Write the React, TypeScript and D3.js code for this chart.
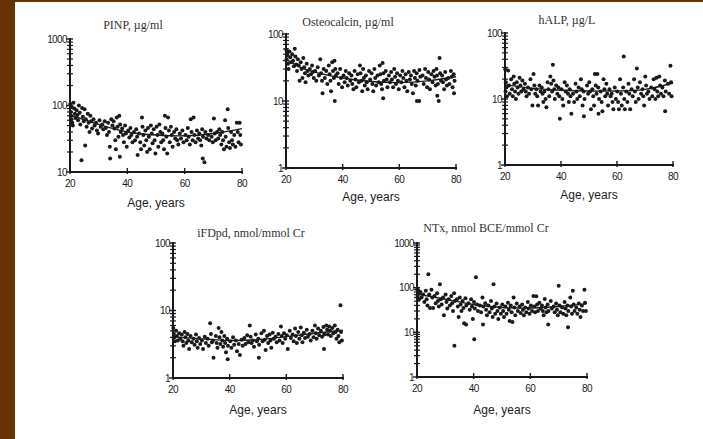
import React from "react";
import * as d3 from "d3";

type Pt = [number, number];

// Scatter points: [age in years, marker value]
const pinpPoints: Pt[] = [[20.1,105],[20.3,80],[20.5,62],[20.6,95],[20.8,55],[20.4,70],[21.0,50],[21.2,110],[21.5,90],[21.7,75],[21.9,65],[22.3,85],[22.6,72],[22.8,60],[23.1,100],[23.4,78],[23.6,52],[24.0,15],[24.2,92],[24.5,68],[24.8,58],[25.1,88],[25.3,25],[25.5,62],[25.8,48],[26.2,75],[26.5,55],[26.8,40],[27.1,70],[27.4,58],[27.7,45],[28.2,62],[28.6,50],[29.1,55],[29.4,42],[29.8,38],[30.3,60],[30.7,48],[31.2,52],[31.6,44],[32.1,58],[32.5,46],[32.9,36],[33.3,55],[33.6,40],[34.0,16],[33.9,24],[34.4,62],[34.8,50],[35.2,58],[35.5,45],[35.8,30],[36.0,22],[36.3,66],[36.6,48],[36.9,34],[37.2,70],[37.5,52],[37.7,40],[37.4,17],[38.2,45],[38.5,36],[38.8,28],[39.2,50],[39.5,38],[39.8,24],[40.3,42],[40.7,33],[41.1,46],[41.4,36],[41.8,28],[42.3,40],[42.7,30],[43.1,44],[43.4,34],[43.6,18],[44.1,38],[44.5,28],[44.8,22],[45.1,66],[45.3,48],[45.6,36],[45.9,25],[46.3,42],[46.6,30],[46.9,20],[47.2,46],[47.5,34],[47.8,22],[48.2,50],[48.5,38],[48.8,27],[49.2,44],[49.5,30],[49.8,19],[50.2,48],[50.5,36],[50.8,24],[51.2,52],[51.5,40],[51.8,28],[52.2,38],[52.5,30],[52.8,22],[53.1,70],[53.3,46],[53.6,34],[53.9,19],[54.2,66],[54.5,42],[54.8,28],[55.2,48],[55.5,36],[55.8,24],[56.3,40],[56.7,32],[57.1,44],[57.4,30],[57.8,26],[58.3,38],[58.7,32],[59.2,42],[59.6,28],[60.3,36],[60.7,30],[61.1,46],[61.4,34],[61.8,26],[62.1,62],[62.4,40],[62.8,30],[63.1,66],[63.4,36],[63.8,28],[64.3,42],[64.7,32],[65.1,38],[65.4,30],[65.8,25],[66.1,44],[66.4,34],[66.3,16],[66.9,14],[67.2,40],[67.6,32],[68.2,36],[68.6,30],[69.1,42],[69.4,34],[69.8,28],[70.2,64],[70.5,38],[70.8,30],[71.3,40],[71.7,32],[72.1,44],[72.4,36],[72.8,26],[73.1,40],[73.4,30],[73.7,22],[74.1,60],[74.3,34],[74.6,24],[75.0,88],[75.2,46],[75.5,28],[75.8,23],[76.2,40],[76.5,30],[76.8,26],[77.3,36],[77.7,24],[78.2,55],[78.5,40],[78.8,28],[79.2,55],[79.4,36],[79.6,26]];

const osteocalcinPoints: Pt[] = [[20.1,58],[20.3,52],[20.5,48],[20.2,42],[20.7,36],[20.9,30],[21.2,55],[21.5,45],[21.8,38],[22.2,50],[22.5,40],[22.8,33],[23.1,60],[23.3,46],[23.6,35],[23.9,28],[24.2,42],[24.5,34],[24.8,20],[25.2,38],[25.5,30],[25.8,22],[26.1,44],[26.4,32],[26.7,26],[26.9,19],[27.3,36],[27.6,28],[27.9,24],[28.4,30],[28.8,25],[29.2,34],[29.5,27],[29.8,22],[30.3,28],[30.7,20],[31.2,32],[31.6,24],[32.1,42],[32.4,26],[32.7,20],[32.9,13],[33.3,30],[33.7,22],[34.2,28],[34.6,18],[35.1,34],[35.4,25],[35.7,20],[35.9,14],[36.3,38],[36.6,28],[36.9,22],[37.1,40],[37.4,30],[37.6,24],[37.2,10],[38.2,26],[38.6,18],[39.1,30],[39.4,22],[39.8,16],[40.3,24],[40.7,19],[41.1,28],[41.4,22],[41.8,17],[42.3,26],[42.7,20],[43.1,24],[43.4,18],[43.8,15],[44.2,28],[44.5,21],[44.8,16],[45.3,25],[45.7,19],[46.1,34],[46.3,26],[46.6,20],[46.9,14],[47.2,30],[47.5,22],[47.8,17],[48.2,24],[48.5,19],[48.8,15],[49.3,28],[49.7,21],[50.2,26],[50.5,18],[50.8,14],[51.2,30],[51.5,22],[51.8,17],[52.3,24],[52.7,19],[53.1,34],[53.3,25],[53.6,18],[53.9,15],[54.1,37],[54.4,26],[54.6,20],[54.3,11],[55.2,28],[55.5,21],[55.8,16],[56.3,24],[56.7,19],[57.1,27],[57.4,21],[57.8,16],[58.2,30],[58.5,23],[58.8,18],[59.2,26],[59.5,20],[59.8,15],[60.3,24],[60.7,19],[61.1,28],[61.4,22],[61.8,16],[62.2,25],[62.5,20],[62.8,14],[63.3,27],[63.7,21],[64.1,24],[64.4,18],[64.8,13],[65.2,28],[65.5,22],[65.8,17],[66.1,26],[66.4,20],[66.2,10],[67.1,29],[67.4,23],[67.0,10],[68.2,24],[68.6,18],[69.1,30],[69.4,22],[69.8,16],[70.2,27],[70.5,21],[70.8,15],[71.3,25],[71.7,19],[72.1,28],[72.4,23],[72.8,17],[73.1,30],[73.3,24],[73.6,18],[73.4,12],[73.9,10],[74.2,44],[74.4,26],[74.7,20],[75.1,24],[75.4,19],[75.8,15],[76.2,27],[76.5,21],[76.8,17],[77.3,22],[77.7,18],[78.2,28],[78.5,23],[78.8,16],[79.2,25],[79.5,20],[79.3,13]];

const halpPoints: Pt[] = [[20.1,28],[20.3,18],[20.5,15],[20.2,13],[20.7,11],[21.1,27],[21.4,16],[21.7,12],[22.2,20],[22.5,14],[22.8,11],[23.1,22],[23.3,17],[23.6,13],[23.9,10],[24.2,18],[24.5,15],[24.8,12],[25.2,21],[25.5,16],[25.8,13],[26.2,19],[26.6,14],[27.1,17],[27.4,13],[27.7,11],[28.2,15],[28.6,12],[29.1,20],[29.4,14],[29.8,8],[30.2,24],[30.5,16],[30.8,12],[31.2,14],[31.5,11],[31.8,8],[32.3,16],[32.7,13],[33.1,15],[33.4,12],[33.7,9],[34.1,13],[34.5,10],[34.8,7.5],[35.2,18],[35.5,14],[35.8,11],[36.2,22],[36.5,17],[36.8,13],[37.1,33],[37.3,19],[37.6,14],[37.8,10],[38.3,16],[38.7,12],[39.1,15],[39.4,11],[39.6,5],[40.2,14],[40.5,10],[40.8,8],[41.3,18],[41.7,13],[42.1,16],[42.5,12],[42.8,9],[43.1,14],[43.4,11],[43.7,6],[44.3,12],[44.7,9],[45.2,17],[45.5,13],[45.8,10],[46.3,15],[46.7,11],[47.1,20],[47.4,14],[47.7,8],[48.1,13],[48.4,10],[48.2,5.5],[49.3,16],[49.7,12],[50.1,18],[50.4,13],[50.7,7],[51.2,14],[51.5,11],[51.8,8],[52.1,24],[52.4,16],[52.7,12],[53.0,24],[53.3,15],[53.6,10],[53.4,6],[54.2,13],[54.5,9],[54.8,6.5],[55.2,20],[55.5,14],[55.8,11],[56.2,17],[56.5,12],[56.8,8],[57.3,14],[57.7,11],[58.1,12],[58.4,9],[58.7,7],[59.2,15],[59.6,10],[60.1,13],[60.4,9],[60.7,7],[61.1,20],[61.4,12],[61.7,8],[62.4,44],[62.2,15],[62.6,10],[62.8,7],[63.3,13],[63.7,9],[64.1,17],[64.4,12],[64.7,7],[65.2,14],[65.6,11],[66.1,20],[66.4,13],[66.7,9],[67.1,29],[67.4,15],[67.7,10],[68.2,18],[68.6,12],[69.1,14],[69.4,11],[69.7,8],[70.1,22],[70.4,16],[70.7,12],[71.2,13],[71.6,10],[72.2,15],[72.6,11],[73.1,20],[73.4,14],[73.7,10],[74.1,21],[74.4,13],[74.7,11],[75.1,22],[75.4,16],[75.7,12],[76.2,15],[76.6,11],[77.1,19],[77.4,13],[77.2,6.5],[78.2,17],[78.6,12],[79.1,32],[79.3,18],[79.5,11]];

const ifdpdPoints: Pt[] = [[20.1,5.5],[20.3,4.5],[20.5,4],[20.7,3.5],[21.1,5],[21.4,4.2],[21.7,3.6],[22.2,4.6],[22.6,3.8],[23.1,4.4],[23.4,3.5],[23.7,3],[24.1,4.8],[24.4,4],[24.7,3.3],[25.1,4.5],[25.4,3.6],[25.7,2.7],[26.2,4.2],[26.6,3.4],[27.2,3.8],[27.6,3.1],[28.1,4.4],[28.4,3.5],[28.7,2.8],[29.2,3.9],[29.6,3.2],[30.2,3.6],[30.6,2.7],[31.2,4.1],[31.6,3.3],[32.2,3.8],[32.6,3],[33.1,6.5],[33.4,4.5],[33.7,3.4],[34.1,3.6],[34.3,2],[35.1,4.2],[35.4,3.3],[35.7,2.8],[36.1,5.5],[36.4,4],[36.7,3.2],[37.1,4.8],[37.4,3.6],[37.7,2.9],[38.1,4.2],[38.4,3.3],[38.7,2.4],[39.1,3.8],[39.4,3],[39.3,1.9],[40.2,3.5],[40.6,2.8],[41.2,4],[41.6,3.1],[42.2,3.6],[42.6,2.5],[43.2,3.2],[43.6,2.2],[44.2,3.7],[44.6,3],[45.2,3.9],[45.6,3.2],[46.2,4.3],[46.6,3.4],[47.1,6],[47.4,4.1],[47.7,3.3],[48.2,3.6],[48.6,2.9],[49.2,4.4],[49.6,3.5],[50.1,3.8],[50.4,3.1],[50.3,2],[51.2,4.6],[51.6,3.5],[52.1,5],[52.4,3.7],[52.7,2.6],[53.2,4.2],[53.6,3.3],[54.1,4.4],[54.4,3.6],[54.7,2.8],[55.2,4.7],[55.6,3.8],[56.2,4.1],[56.6,3.4],[57.2,4.5],[57.6,3.6],[58.1,5.8],[58.4,4.2],[58.7,3.3],[59.2,4.6],[59.6,3.8],[60.2,4.3],[60.5,2.7],[61.2,5],[61.6,3.9],[62.2,4.4],[62.6,3.5],[63.1,5.4],[63.4,4.2],[63.7,3.3],[64.2,4.8],[64.6,3.8],[65.1,5.6],[65.4,4.3],[65.7,3.4],[66.2,4.7],[66.6,3.9],[67.2,5.2],[67.6,4.1],[68.2,4.5],[68.6,3.6],[69.2,5],[69.6,4],[70.1,6],[70.4,4.6],[70.7,3.8],[71.2,5.4],[71.6,4.3],[72.2,5],[72.6,4.1],[73.1,5.7],[73.4,4.4],[73.3,2.7],[74.1,6],[74.4,5.2],[74.7,4.4],[75.1,5.8],[75.4,5],[75.7,4.2],[76.2,5.5],[76.6,4.6],[77.1,6],[77.4,4.8],[77.7,3.8],[78.1,5.2],[78.4,4.2],[78.7,3.4],[79.1,12],[79.3,4.8],[79.6,3.6]];

const ntxPoints: Pt[] = [[20.1,95],[20.3,85],[20.5,75],[20.2,65],[20.7,55],[21.2,80],[21.6,60],[22.2,70],[22.6,48],[23.1,85],[23.4,55],[23.7,40],[24.0,200],[24.3,70],[24.6,35],[25.1,90],[25.4,60],[25.7,35],[26.2,65],[26.6,45],[27.1,75],[27.4,50],[27.7,38],[28.1,120],[28.4,55],[28.7,42],[29.2,60],[29.5,24],[30.1,70],[30.4,48],[30.7,34],[31.2,55],[31.6,40],[32.1,65],[32.4,45],[32.7,30],[33.1,75],[33.4,50],[33.2,5],[34.1,55],[34.4,38],[34.7,22],[35.1,60],[35.4,42],[35.7,30],[36.1,50],[36.4,35],[36.6,16],[37.1,58],[37.4,40],[37.3,15],[38.2,45],[38.6,32],[39.1,55],[39.4,38],[39.7,20],[40.1,48],[40.4,34],[40.2,7],[40.8,170],[41.2,42],[41.5,30],[42.2,40],[42.6,28],[43.1,60],[43.4,38],[43.3,15],[44.1,45],[44.4,32],[44.7,24],[45.2,40],[45.6,28],[46.1,50],[46.4,34],[46.7,22],[47.0,120],[47.3,38],[47.6,26],[48.1,44],[48.4,30],[48.7,20],[49.2,36],[49.6,26],[50.1,42],[50.4,30],[50.7,22],[51.2,38],[51.6,26],[52.1,46],[52.4,32],[52.7,18],[53.1,40],[53.4,28],[53.7,17],[54.1,60],[54.4,36],[54.7,24],[55.2,44],[55.6,30],[56.2,38],[56.6,27],[57.1,42],[57.4,32],[57.7,24],[58.2,36],[58.6,28],[59.1,48],[59.4,34],[59.7,26],[60.2,40],[60.6,30],[61.1,65],[61.4,38],[61.7,28],[62.1,64],[62.4,42],[62.7,30],[63.2,46],[63.6,34],[64.1,40],[64.4,30],[64.7,24],[65.1,56],[65.4,36],[65.7,28],[66.1,42],[66.4,30],[66.3,15],[67.2,50],[67.6,34],[68.2,38],[68.6,28],[69.1,44],[69.4,32],[69.7,24],[70.0,110],[70.3,40],[70.6,28],[71.2,36],[71.6,26],[72.1,48],[72.4,34],[72.7,24],[73.1,40],[73.4,30],[73.3,13],[74.1,60],[74.4,38],[74.7,26],[75.0,85],[75.3,42],[75.6,30],[76.2,36],[76.6,26],[77.1,44],[77.4,32],[77.7,22],[78.2,40],[78.6,30],[79.1,90],[79.3,46],[79.6,30]];

// Fitted trend curves
const pinpCurve: Pt[] = [[20,72],[30,52],[40,40],[50,36],[60,35],[70,38],[80,45]];
const osteocalcinCurve: Pt[] = [[20,42],[25,32],[30,27],[40,22],[50,19.5],[60,18.8],[70,20],[80,23]];
const halpCurve: Pt[] = [[20,16.5],[30,14.5],[40,13.6],[50,13.2],[60,13.2],[70,14],[80,17.5]];
const ifdpdCurve: Pt[] = [[20,4.1],[30,3.8],[40,3.6],[50,3.7],[60,4.1],[70,4.6],[80,5.1]];
const ntxCurve: Pt[] = [[20,72],[30,55],[40,42],[50,36],[60,35],[70,38],[80,44]];

const ageTicks = [20, 40, 60, 80];
const panelTitles = [
  "PINP, µg/ml",
  "Osteocalcin, µg/ml",
  "hALP, µg/L",
  "iFDpd, nmol/mmol Cr",
  "NTx, nmol BCE/mmol Cr",
];
const xAxisLabel = "Age, years";

interface PanelLayout {
  left: number;
  right: number;
  top: number;
  bottom: number;
  yDomain: [number, number];
  titleX: number;
  titleY: number;
  labelY: number;
}

const layouts: PanelLayout[] = [
  { left: 70, right: 242, top: 39, bottom: 172, yDomain: [10, 1000], titleX: 133, titleY: 29, labelY: 207 },
  { left: 286, right: 456, top: 34, bottom: 168, yDomain: [1, 100], titleX: 348, titleY: 26, labelY: 201 },
  { left: 505, right: 673, top: 33, bottom: 165, yDomain: [1, 100], titleX: 567, titleY: 24, labelY: 199 },
  { left: 173, right: 343, top: 243, bottom: 378, yDomain: [1, 100], titleX: 251, titleY: 237, labelY: 414 },
  { left: 417, right: 587, top: 243, bottom: 377, yDomain: [1, 1000], titleX: 486, titleY: 232, labelY: 414 },
];

const seriesPoints = [pinpPoints, osteocalcinPoints, halpPoints, ifdpdPoints, ntxPoints];
const seriesCurves = [pinpCurve, osteocalcinCurve, halpCurve, ifdpdCurve, ntxCurve];

const INK = "#1a1a1a";
const SANS = "'Liberation Sans', Arial, sans-serif";
const SERIF = "'Liberation Serif', 'Times New Roman', serif";

function Panel({ layout, points, curve, title }: { layout: PanelLayout; points: Pt[]; curve: Pt[]; title: string }) {
  const x = d3.scaleLinear().domain([20, 80]).range([layout.left, layout.right]);
  const y = d3.scaleLog().domain(layout.yDomain).range([layout.bottom, layout.top]);

  const [lo, hi] = layout.yDomain;
  const decades: number[] = [];
  for (let d = lo; d <= hi + 1e-9; d *= 10) decades.push(d);
  const minor: number[] = [];
  decades.slice(0, -1).forEach((d) => {
    for (let k = 2; k <= 9; k++) minor.push(d * k);
  });

  const line = d3
    .line<Pt>()
    .x((p) => x(p[0]))
    .y((p) => y(p[1]))
    .curve(d3.curveNatural);

  const ax = layout.left;
  const ay = layout.bottom;

  return (
    <g>
      <text x={layout.titleX} y={layout.titleY} textAnchor="middle" fontFamily={SERIF} fontSize={12} fill="#333">
        {title}
      </text>

      {/* points */}
      {points.map((p, i) => (
        <circle key={i} cx={x(p[0])} cy={y(p[1])} r={2} fill={INK} />
      ))}

      {/* trend */}
      <path d={line(curve) || ""} fill="none" stroke={INK} strokeWidth={1.4} />

      {/* y axis */}
      <line x1={ax} x2={ax} y1={y(hi) - 1} y2={ay} stroke={INK} strokeWidth={2} />
      {minor.map((v) => (
        <line key={"m" + v} x1={ax - 3} x2={ax + 3} y1={y(v)} y2={y(v)} stroke={INK} strokeWidth={1.2} />
      ))}
      {decades.map((v) => (
        <g key={"d" + v}>
          <line x1={ax - 4} x2={ax + 3} y1={y(v)} y2={y(v)} stroke={INK} strokeWidth={1.4} />
          <text
            x={ax - 3}
            y={y(v) + 3.5}
            textAnchor="end"
            fontFamily={SANS}
            fontSize={10}
            letterSpacing={-0.6}
            fill={INK}
          >
            {v}
          </text>
        </g>
      ))}

      {/* x axis */}
      <line x1={ax} x2={layout.right + 1} y1={ay} y2={ay} stroke={INK} strokeWidth={2} />
      {ageTicks.map((t) => (
        <g key={"x" + t}>
          <line x1={x(t)} x2={x(t)} y1={ay - 4} y2={ay + 2} stroke={INK} strokeWidth={1.4} />
          <text x={x(t)} y={ay + 15} textAnchor="middle" fontFamily={SANS} fontSize={10} letterSpacing={-0.6} fill={INK}>
            {t}
          </text>
        </g>
      ))}

      <text
        x={(layout.left + layout.right) / 2}
        y={layout.labelY}
        textAnchor="middle"
        fontFamily={SANS}
        fontSize={12}
        fill="#222"
      >
        {xAxisLabel}
      </text>
    </g>
  );
}

export default function App() {
  return (
    <svg
      width={703}
      height={439}
      viewBox="0 0 703 439"
      style={{ position: "absolute", left: 0, top: 0, display: "block" }}
    >
      <rect x={0} y={0} width={703} height={439} fill="#ffffff" />
      <rect x={0} y={0} width={15} height={439} fill="#663300" />
      <rect x={0} y={0} width={703} height={2} fill="#663300" />
      {layouts.map((l, i) => (
        <Panel key={i} layout={l} points={seriesPoints[i]} curve={seriesCurves[i]} title={panelTitles[i]} />
      ))}
    </svg>
  );
}
